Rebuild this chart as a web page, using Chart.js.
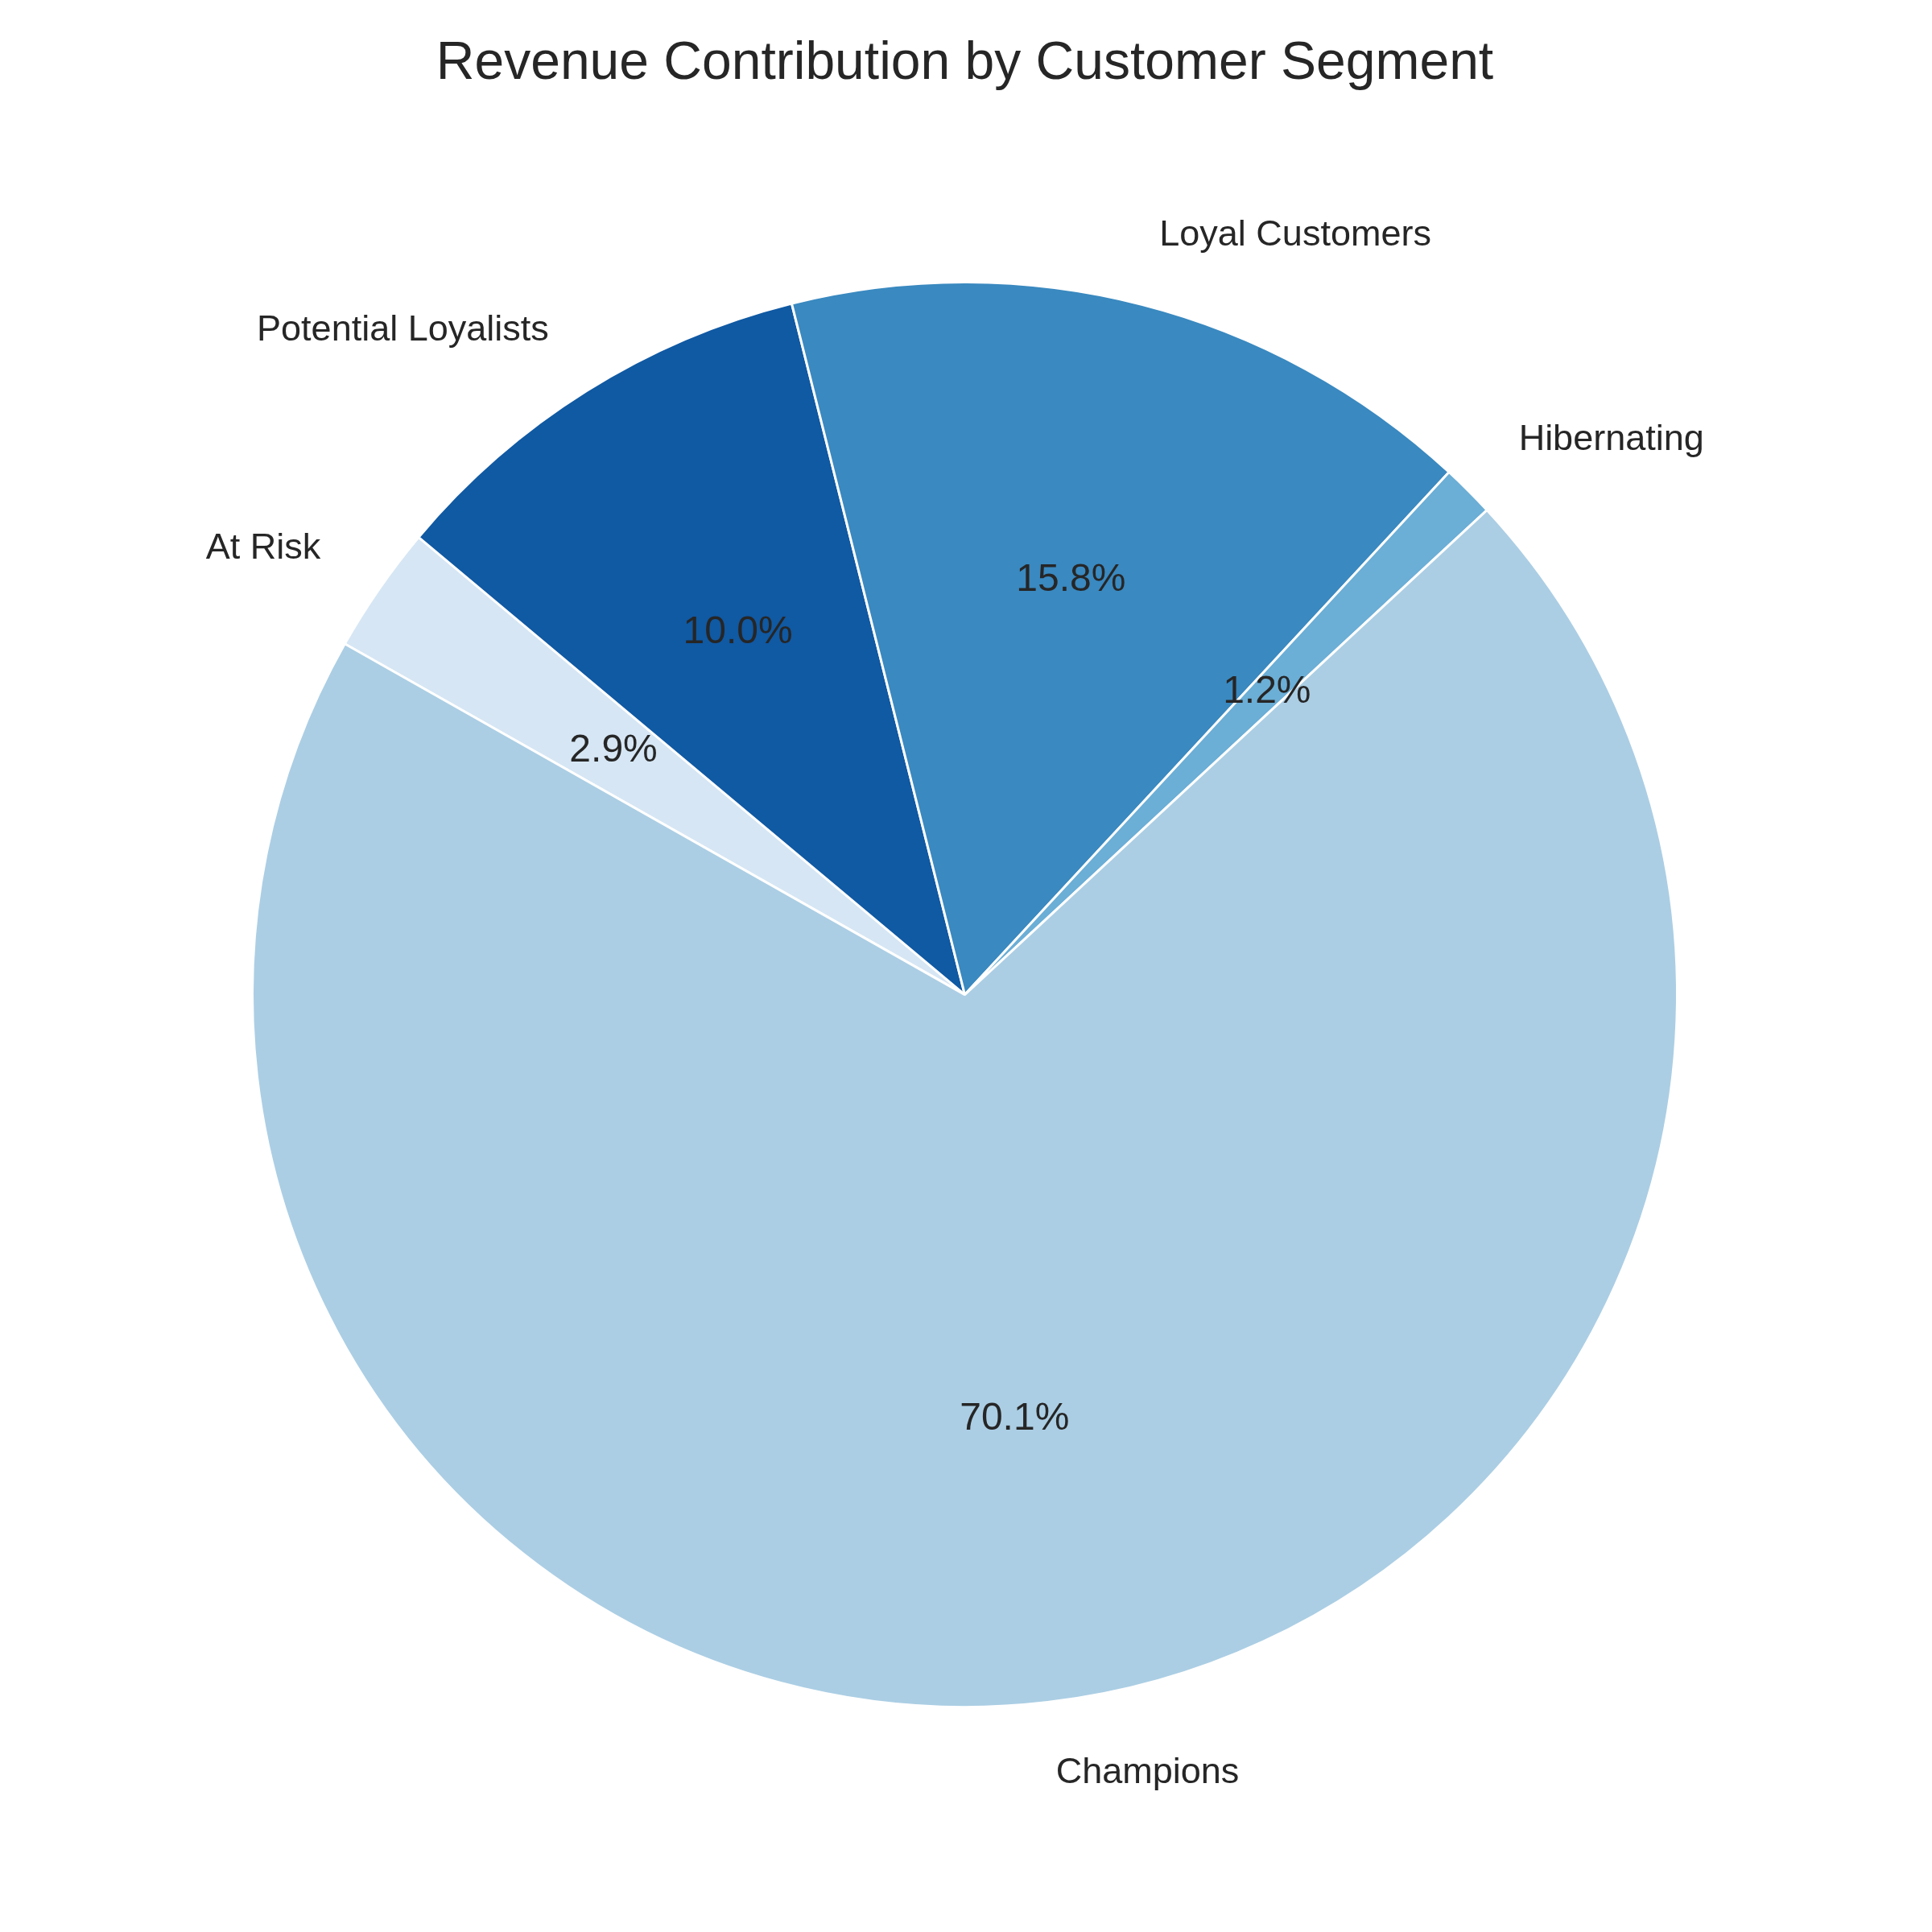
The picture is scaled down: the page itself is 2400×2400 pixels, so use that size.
<!DOCTYPE html>
<html>
<head>
<meta charset="utf-8">
<script src="https://cdn.jsdelivr.net/npm/chart.js@4.4.1/dist/chart.umd.min.js"></script>
<style>
  html, body { margin: 0; padding: 0; background: #ffffff; }
  #myChart { display: block; }
</style>
</head>
<body>
<canvas id="myChart" width="2400" height="2400"></canvas>
<script>
// Revenue share by customer segment (percent), in the order the source pie draws them
const segments = ['Champions', 'Hibernating', 'Loyal Customers', 'Potential Loyalists', 'At Risk'];
const revenueShare = [70.1, 1.2, 15.8, 10.0, 2.9];
const segmentColors = ['#abcee4', '#6baed6', '#3a89c0', '#1059a3', '#d6e6f4'];

// matplotlib goes counter-clockwise, Chart.js clockwise -> reverse the order
const labels = segments.slice().reverse();
const values = revenueShare.slice().reverse();
const colors = segmentColors.slice().reverse();

const textColor = '#262626';
const fontFamily = "'Liberation Sans', Arial, sans-serif";

// draws outside labels (1.1 r) and percentages (0.6 r) like matplotlib's pie
const pieText = {
    id: 'pieText',
    afterDatasetsDraw(chart) {
        const ctx = chart.ctx;
        const meta = chart.getDatasetMeta(0);
        const data = chart.data.datasets[0].data;
        const total = data.reduce((a, b) => a + b, 0);
        ctx.save();
        ctx.fillStyle = textColor;
        ctx.textBaseline = 'middle';
        meta.data.forEach((arc, i) => {
            const mid = (arc.startAngle + arc.endAngle) / 2;
            const r = arc.outerRadius;
            const cx = Math.cos(mid), cy = Math.sin(mid);

            // segment name
            ctx.font = '45px ' + fontFamily;
            ctx.textAlign = cx >= 0 ? 'left' : 'right';
            ctx.fillText(chart.data.labels[i], arc.x + cx * r * 1.1, arc.y + cy * r * 1.1);

            // percentage
            ctx.font = '48px ' + fontFamily;
            ctx.textAlign = 'center';
            const pct = (data[i] / total * 100).toFixed(1) + '%';
            ctx.fillText(pct, arc.x + cx * r * 0.6, arc.y + cy * r * 0.6);
        });
        ctx.restore();
    }
};

const ctx = document.getElementById('myChart');
const myChart = new Chart(ctx, {
    type: 'pie',
    data: {
        labels: labels,
        datasets: [{
            data: values,
            backgroundColor: colors,
            borderColor: '#ffffff',
            borderWidth: 3,
            hoverOffset: 0
        }]
    },
    options: {
        responsive: false,
        animation: false,
        devicePixelRatio: 1,
        rotation: -60.5,            // first wedge starts at 150.5 deg (matplotlib angle)
        layout: {
            padding: { left: 312, right: 315, top: 0, bottom: 277 }
        },
        plugins: {
            legend: { display: false },
            tooltip: { enabled: false },
            title: {
                display: true,
                text: 'Revenue Contribution by Customer Segment',
                color: textColor,
                font: { family: fontFamily, size: 66, weight: 'normal' },
                padding: { top: 40, bottom: 229 }
            }
        }
    },
    plugins: [pieText]
});
</script>
</body>
</html>
